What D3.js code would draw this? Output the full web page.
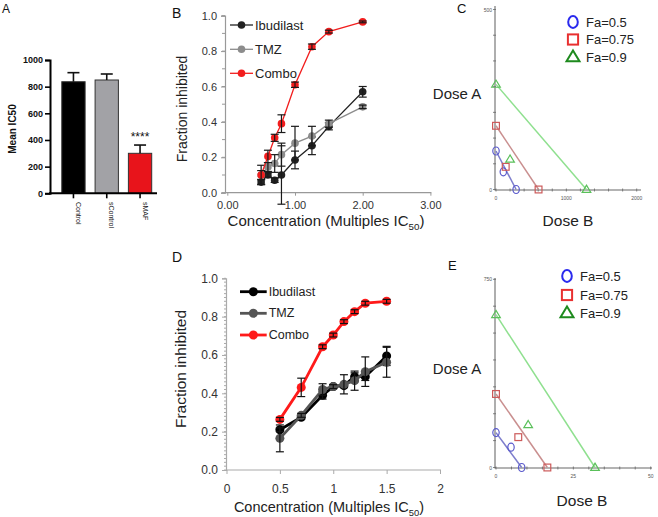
<!DOCTYPE html>
<html><head><meta charset="utf-8">
<script src="https://cdn.jsdelivr.net/npm/d3@7"></script>
<style>
body{margin:0;background:#fff}
svg{display:block}
text{font-family:"Liberation Sans",Arial,sans-serif}
</style>
</head><body>
<svg id="c" width="658" height="517"></svg>
<script>
// ---------- DATA ----------
// Panel A
const catsA = ["Control", "sControl", "sMAF"];
const meanA = [837, 850, 300];
const errA = [68, 45, 62];
const ticksA = [0, 200, 400, 600, 800, 1000];

// Panel B
const concB = [0.5, 0.6, 0.7, 0.8, 1.0, 1.25, 1.5, 2.0];
const ibuB = [0.06, 0.10, 0.07, 0.10, 0.185, 0.265, 0.375, 0.57];
const ibuBErr = [0.012, 0.012, 0.012, 0.165, 0.05, 0.05, 0.02, 0.03];
const tmzB = [0.10, 0.145, 0.165, 0.215, 0.28, 0.32, 0.39, 0.485];
const tmzBErr = [0.055, 0.025, 0.05, 0.065, 0.095, 0.055, 0.02, 0.01];
const comboB = [0.10, 0.205, 0.31, 0.39, 0.61, 0.825, 0.91, 0.965];
const comboBErr = [0.025, 0.035, 0.02, 0.05, 0.015, 0.015, 0.008, 0.005];
const xTicksB = [0, 1, 2, 3];
const yTicks = [0, 0.2, 0.4, 0.6, 0.8, 1.0];
const seriesNames = ["Ibudilast", "TMZ", "Combo"];

// Panel D
const concD = [0.5, 0.7, 0.9, 1.0, 1.1, 1.2, 1.3, 1.5];
const ibuD = [0.21, 0.275, 0.39, 0.435, 0.44, 0.487, 0.487, 0.595];
const ibuDErr = [0.01, 0.01, 0.02, 0.01, 0.01, 0.02, 0.02, 0.05];
const tmzD = [0.165, 0.285, 0.42, 0.435, 0.447, 0.466, 0.513, 0.562];
const tmzDErr = [0.07, 0.01, 0.03, 0.01, 0.05, 0.05, 0.077, 0.078];
const comboD = [0.264, 0.431, 0.643, 0.704, 0.774, 0.826, 0.87, 0.88];
const comboDErr = [0.01, 0.048, 0.01, 0.01, 0.01, 0.01, 0.01, 0.01];
const xTicksD = [0, 0.5, 1, 1.5, 2];

// Panels C, E (isobolograms): [Dose B, Dose A]
const faLabels = ["Fa=0.5", "Fa=0.75", "Fa=0.9"];
const cFa05 = [[0, 107], [104, 49], [286, 0]];
const cFa075 = [[0, 177], [138, 63], [605, 0]];
const cFa09 = [[0, 292], [200, 84], [1286, 0]];
const cXTicks = [0, 1000, 2000];
const cYTicks = [0, 500];
const eFa05 = [[0, 139], [4.85, 81], [8.3, 0]];
const eFa075 = [[0, 293], [7.2, 121], [16.6, 0]];
const eFa09 = [[0, 609], [10.4, 170], [32, 0]];
const eXTicks = [0, 25, 50];
const eYTicks = [0, 750];

// ---------- DRAW ----------
const svg = d3.select("#c");
const FONT = '"Liberation Sans",Arial,sans-serif';

function panelLabel(t, x, y, size) {
  svg.append("text").attr("x", x).attr("y", y).attr("font-size", size).attr("fill", "#111").text(t);
}

// ===== Panel A =====
panelLabel("A", 2, 13, 12);
const xA = d3.scaleBand().domain(catsA).range([56.8, 156.7]).paddingInner(0.3).paddingOuter(0.15);
const yA = d3.scaleLinear().domain([0, 1000]).range([193.3, 60]);
const gA = svg.append("g");
const colorsA = ["#000000", "#a2a2a6", "#e8141b"];
gA.selectAll("rect.bar").data(catsA).join("rect")
  .attr("x", d => xA(d)).attr("width", xA.bandwidth())
  .attr("y", (d, i) => yA(meanA[i])).attr("height", (d, i) => yA(0) - yA(meanA[i]))
  .attr("fill", (d, i) => colorsA[i]).attr("stroke", "#333").attr("stroke-width", 1);
catsA.forEach((c, i) => {
  const cx = xA(c) + xA.bandwidth() / 2;
  gA.append("line").attr("x1", cx).attr("x2", cx).attr("y1", yA(meanA[i])).attr("y2", yA(meanA[i] + errA[i]))
    .attr("stroke", "#111").attr("stroke-width", 1.6);
  gA.append("line").attr("x1", cx - 6).attr("x2", cx + 6).attr("y1", yA(meanA[i] + errA[i])).attr("y2", yA(meanA[i] + errA[i]))
    .attr("stroke", "#111").attr("stroke-width", 1.6);
});
const axA = gA.append("g").attr("transform", "translate(50,0)")
  .call(d3.axisLeft(yA).tickValues(ticksA).tickSize(5).tickPadding(2).tickFormat(d3.format("d")));
axA.select(".domain").attr("stroke", "#000").attr("stroke-width", 2);
axA.selectAll(".tick line").attr("stroke", "#000").attr("stroke-width", 1.6);
axA.selectAll(".tick text").attr("font-size", 9).attr("font-weight", "bold").attr("fill", "#111").attr("font-family", FONT);
const axAx = gA.append("g").attr("transform", "translate(0,193.3)")
  .call(d3.axisBottom(xA).tickSize(5).tickFormat(""));
axAx.select(".domain").attr("d", "M49,0H157").attr("stroke", "#000").attr("stroke-width", 2);
axAx.selectAll(".tick line").attr("stroke", "#000").attr("stroke-width", 1.6);
catsA.forEach(c => {
  const cx = xA(c) + xA.bandwidth() / 2 + 5;
  gA.append("text").attr("transform", `translate(${cx},202) rotate(90)`)
    .attr("font-size", 7).attr("dominant-baseline", "central").attr("fill", "#222").text(c);
});
gA.append("text").attr("x", xA("sMAF") + xA.bandwidth() / 2).attr("y", 141).attr("text-anchor", "middle")
  .attr("font-size", 12).attr("fill", "#111").text("****");
gA.append("text").attr("transform", "translate(16,129) rotate(-90)").attr("text-anchor", "middle")
  .attr("font-size", 10).attr("font-weight", "bold").attr("fill", "#111").text("Mean IC50");

// ===== generic line panel =====
function linePanel(opts) {
  const g = svg.append("g");
  const { x, y } = opts;
  const ay = g.append("g").attr("transform", `translate(${opts.axisX},0)`)
    .call(d3.axisLeft(y).tickValues(yTicks).tickSize(opts.majTick).tickPadding(opts.yPad).tickFormat(d3.format(".1f")));
  ay.select(".domain").attr("stroke", opts.axisColor).attr("stroke-width", 1.2);
  ay.selectAll(".tick line").attr("stroke", opts.axisColor);
  ay.selectAll(".tick text").attr("font-size", opts.tickFont).attr("fill", "#333").attr("font-family", FONT);
  g.append("g").selectAll("line").data(d3.range(0, 1.0001, opts.minorStep)).join("line")
    .attr("x1", opts.axisX - opts.minTick).attr("x2", opts.axisX)
    .attr("y1", d => y(d)).attr("y2", d => y(d)).attr("stroke", opts.axisColor).attr("stroke-width", 1);
  const ax = g.append("g").attr("transform", `translate(0,${y(0)})`)
    .call(d3.axisBottom(x).tickValues(opts.xTicks).tickSize(opts.xTick).tickPadding(opts.xPad).tickFormat(opts.xFmt));
  ax.select(".domain").attr("d", `M${opts.axisX},0H${x(opts.xTicks[opts.xTicks.length - 1]) + 1}`)
    .attr("stroke", opts.axisColor).attr("stroke-width", 1.2);
  ax.selectAll(".tick line").attr("stroke", opts.axisColor);
  ax.selectAll(".tick text").attr("font-size", opts.tickFont).attr("fill", "#333").attr("font-family", FONT);

  opts.series.forEach(s => {
    const pts = opts.conc.map((c, i) => [c, s.vals[i], s.err[i]]);
    g.append("path").datum(pts)
      .attr("d", d3.line().x(d => x(d[0])).y(d => y(d[1])))
      .attr("fill", "none").attr("stroke", s.color).attr("stroke-width", opts.lw);
    g.append("g").selectAll("circle").data(pts).join("circle")
      .attr("cx", d => x(d[0])).attr("cy", d => y(d[1])).attr("r", opts.r).attr("fill", s.color);
    const eg = g.append("g").attr("stroke", opts.errColor).attr("stroke-width", 1.2);
    pts.forEach(d => {
      const cx = x(d[0]);
      eg.append("line").attr("x1", cx).attr("x2", cx).attr("y1", y(d[1] - d[2])).attr("y2", y(d[1] + d[2]));
      [d[1] - d[2], d[1] + d[2]].forEach(v => {
        eg.append("line").attr("x1", cx - opts.cap).attr("x2", cx + opts.cap).attr("y1", y(v)).attr("y2", y(v));
      });
    });
  });

  opts.series.forEach((s, i) => {
    const ly = opts.legY[i];
    g.append("line").attr("x1", opts.legX[0]).attr("x2", opts.legX[1]).attr("y1", ly).attr("y2", ly)
      .attr("stroke", s.color).attr("stroke-width", opts.lw);
    g.append("circle").attr("cx", (opts.legX[0] + opts.legX[1]) / 2).attr("cy", ly).attr("r", opts.r).attr("fill", s.color);
    g.append("text").attr("x", opts.legX[1] + 2).attr("y", ly).attr("dominant-baseline", "central")
      .attr("font-size", opts.legFont).attr("fill", "#222").text(s.name);
  });

  g.append("text").attr("transform", `translate(${opts.ylab[0]},${opts.ylab[1]}) rotate(-90)`)
    .attr("text-anchor", "middle").attr("dominant-baseline", "central")
    .attr("font-size", opts.ylabFont).attr("fill", "#222").text("Fraction inhibited");
  const xl = g.append("text").attr("x", opts.xlab[0]).attr("y", opts.xlab[1]).attr("text-anchor", "middle")
    .attr("font-size", opts.xlabFont).attr("fill", "#222");
  xl.append("tspan").text("Concentration (Multiples IC");
  xl.append("tspan").attr("font-size", opts.xlabFont * 0.65).attr("dy", 4).text("50");
  xl.append("tspan").attr("dy", -4).text(")");
}

// ===== Panel B =====
panelLabel("B", 172, 18, 14);
const xB = d3.scaleLinear().domain([0, 3]).range([227.3, 430.4]);
const yB = d3.scaleLinear().domain([0, 1]).range([192.7, 15.7]);
linePanel({
  x: xB, y: yB, axisX: 225, axisColor: "#999", majTick: 4, minTick: 3, minorStep: 0.1, yPad: 4,
  xTicks: xTicksB, xTick: 3, xPad: 6, xFmt: d3.format(".2f"), tickFont: 11,
  conc: concB, lw: 1.3, r: 3.8, cap: 4, errColor: "#1a1a1a",
  series: [
    { name: seriesNames[0], vals: ibuB, err: ibuBErr, color: "#222222" },
    { name: seriesNames[1], vals: tmzB, err: tmzBErr, color: "#8c8c8c" },
    { name: seriesNames[2], vals: comboB, err: comboBErr, color: "#f21d1d" }
  ],
  legX: [230, 253], legY: [25, 49.3, 73.3], legFont: 13,
  ylab: [182, 109], ylabFont: 14, xlab: [326, 226], xlabFont: 15
});

// ===== Panel D =====
panelLabel("D", 172, 262, 14);
const xD = d3.scaleLinear().domain([0, 2]).range([226.5, 440]);
const yD = d3.scaleLinear().domain([0, 1]).range([470, 278.3]);
linePanel({
  x: xD, y: yD, axisX: 226, axisColor: "#aaa", majTick: 4, minTick: 2, minorStep: 0.02, yPad: 4,
  xTicks: xTicksD, xTick: 4, xPad: 10, xFmt: d3.format(""), tickFont: 12,
  conc: concD, lw: 2.8, r: 4.5, cap: 4, errColor: "#111",
  series: [
    { name: seriesNames[0], vals: ibuD, err: ibuDErr, color: "#000000" },
    { name: seriesNames[1], vals: tmzD, err: tmzDErr, color: "#555555" },
    { name: seriesNames[2], vals: comboD, err: comboDErr, color: "#ff1a1a" }
  ],
  legX: [240, 266.7], legY: [291.7, 313.3, 335], legFont: 12.5,
  ylab: [180, 369], ylabFont: 15.5, xlab: [329, 512], xlabFont: 14.5
});

// ===== Isobologram panels =====
const lineCols = ["#7d7dcc", "#c98f8f", "#8fe08f"];
const markCols = ["#5a5acc", "#cc5a5a", "#5ac05a"];
const legCols = ["#2a2aee", "#e83030", "#1e8a1e"];

function marker(g, type, cx, cy, s, color, sw) {
  if (type === 0) {
    g.append("ellipse").attr("cx", cx).attr("cy", cy).attr("rx", s * 0.8).attr("ry", s).attr("fill", "none")
      .attr("stroke", color).attr("stroke-width", sw);
  } else if (type === 1) {
    g.append("rect").attr("x", cx - s * 0.85).attr("y", cy - s * 0.85).attr("width", s * 1.7).attr("height", s * 1.7)
      .attr("fill", "none").attr("stroke", color).attr("stroke-width", sw);
  } else {
    const h = s * 1.8;
    g.append("path").attr("d", `M${cx},${cy - h * 0.6}L${cx + h * 0.6},${cy + h * 0.4}L${cx - h * 0.6},${cy + h * 0.4}Z`)
      .attr("fill", "none").attr("stroke", color).attr("stroke-width", sw);
  }
}

function isoPanel(o) {
  const g = svg.append("g");
  const { x, y } = o;
  g.append("line").attr("x1", o.ax).attr("x2", o.ax).attr("y1", o.yTop).attr("y2", y(0) + 1)
    .attr("stroke", "#9a9a9a").attr("stroke-width", 1.6);
  g.append("line").attr("x1", o.ax).attr("x2", o.xEnd).attr("y1", y(0) + 0.5).attr("y2", y(0) + 0.5)
    .attr("stroke", "#9a9a9a").attr("stroke-width", 1.6);
  const ymax = o.yTicks[o.yTicks.length - 1];
  d3.range(0, ymax + 0.001, ymax / 7).forEach(v => {
    g.append("line").attr("x1", o.ax - 2).attr("x2", o.ax + 1).attr("y1", y(v)).attr("y2", y(v)).attr("stroke", "#666").attr("stroke-width", 0.8);
  });
  const xmax = o.xTicks[o.xTicks.length - 1];
  d3.range(0, xmax + 0.001, xmax / 10).forEach(v => {
    g.append("line").attr("x1", x(v)).attr("x2", x(v)).attr("y1", y(0) - 1).attr("y2", y(0) + 2).attr("stroke", "#666").attr("stroke-width", 0.8);
  });
  o.yTicks.forEach(v => g.append("text").attr("x", o.ax - 3).attr("y", y(v)).attr("text-anchor", "end")
    .attr("dominant-baseline", "central").attr("font-size", 5).attr("fill", "#555").text(v));
  o.xTicks.forEach(v => g.append("text").attr("x", x(v)).attr("y", y(0) + 10).attr("text-anchor", "middle")
    .attr("font-size", 5).attr("fill", "#555").text(v));
  o.sets.forEach((pts, i) => {
    const a = pts[0], b = pts[pts.length - 1];
    g.append("line").attr("x1", x(a[0])).attr("y1", y(a[1])).attr("x2", x(b[0])).attr("y2", y(b[1]))
      .attr("stroke", lineCols[i]).attr("stroke-width", 1.5);
  });
  o.sets.forEach((pts, i) => {
    pts.forEach(p => marker(g, i, x(p[0]), y(p[1]), 4, markCols[i], 1.2));
  });
  faLabels.forEach((t, i) => {
    const ly = o.legY[i];
    marker(g, i, o.legX, ly, 6, legCols[i], 2);
    g.append("text").attr("x", o.legX + 13).attr("y", ly).attr("dominant-baseline", "central")
      .attr("font-size", 13).attr("fill", "#222").text(t);
  });
  g.append("text").attr("x", 457).attr("y", o.doseAY).attr("text-anchor", "middle").attr("dominant-baseline", "central")
    .attr("font-size", 15).attr("fill", "#222").text("Dose A");
  g.append("text").attr("x", o.doseBX).attr("y", o.doseBY).attr("text-anchor", "middle").attr("dominant-baseline", "central")
    .attr("font-size", 15.5).attr("fill", "#222").text("Dose B");
}

panelLabel("C", 457, 13, 13);
isoPanel({
  x: d3.scaleLinear().domain([0, 2000]).range([496, 636.7]),
  y: d3.scaleLinear().domain([0, 500]).range([189.5, 9.5]),
  ax: 495, yTop: 6, xEnd: 641, xTicks: cXTicks, yTicks: cYTicks,
  sets: [cFa05, cFa075, cFa09],
  legX: 573, legY: [22, 39.5, 57], doseAY: 93, doseBX: 568, doseBY: 220
});

panelLabel("E", 448, 270, 13);
isoPanel({
  x: d3.scaleLinear().domain([0, 50]).range([496, 650.7]),
  y: d3.scaleLinear().domain([0, 750]).range([467.5, 279.3]),
  ax: 495, yTop: 278, xEnd: 652, xTicks: eXTicks, yTicks: eYTicks,
  sets: [eFa05, eFa075, eFa09],
  legX: 567, legY: [276, 295, 313], doseAY: 368, doseBX: 582, doseBY: 500
});
</script>
</body></html>
